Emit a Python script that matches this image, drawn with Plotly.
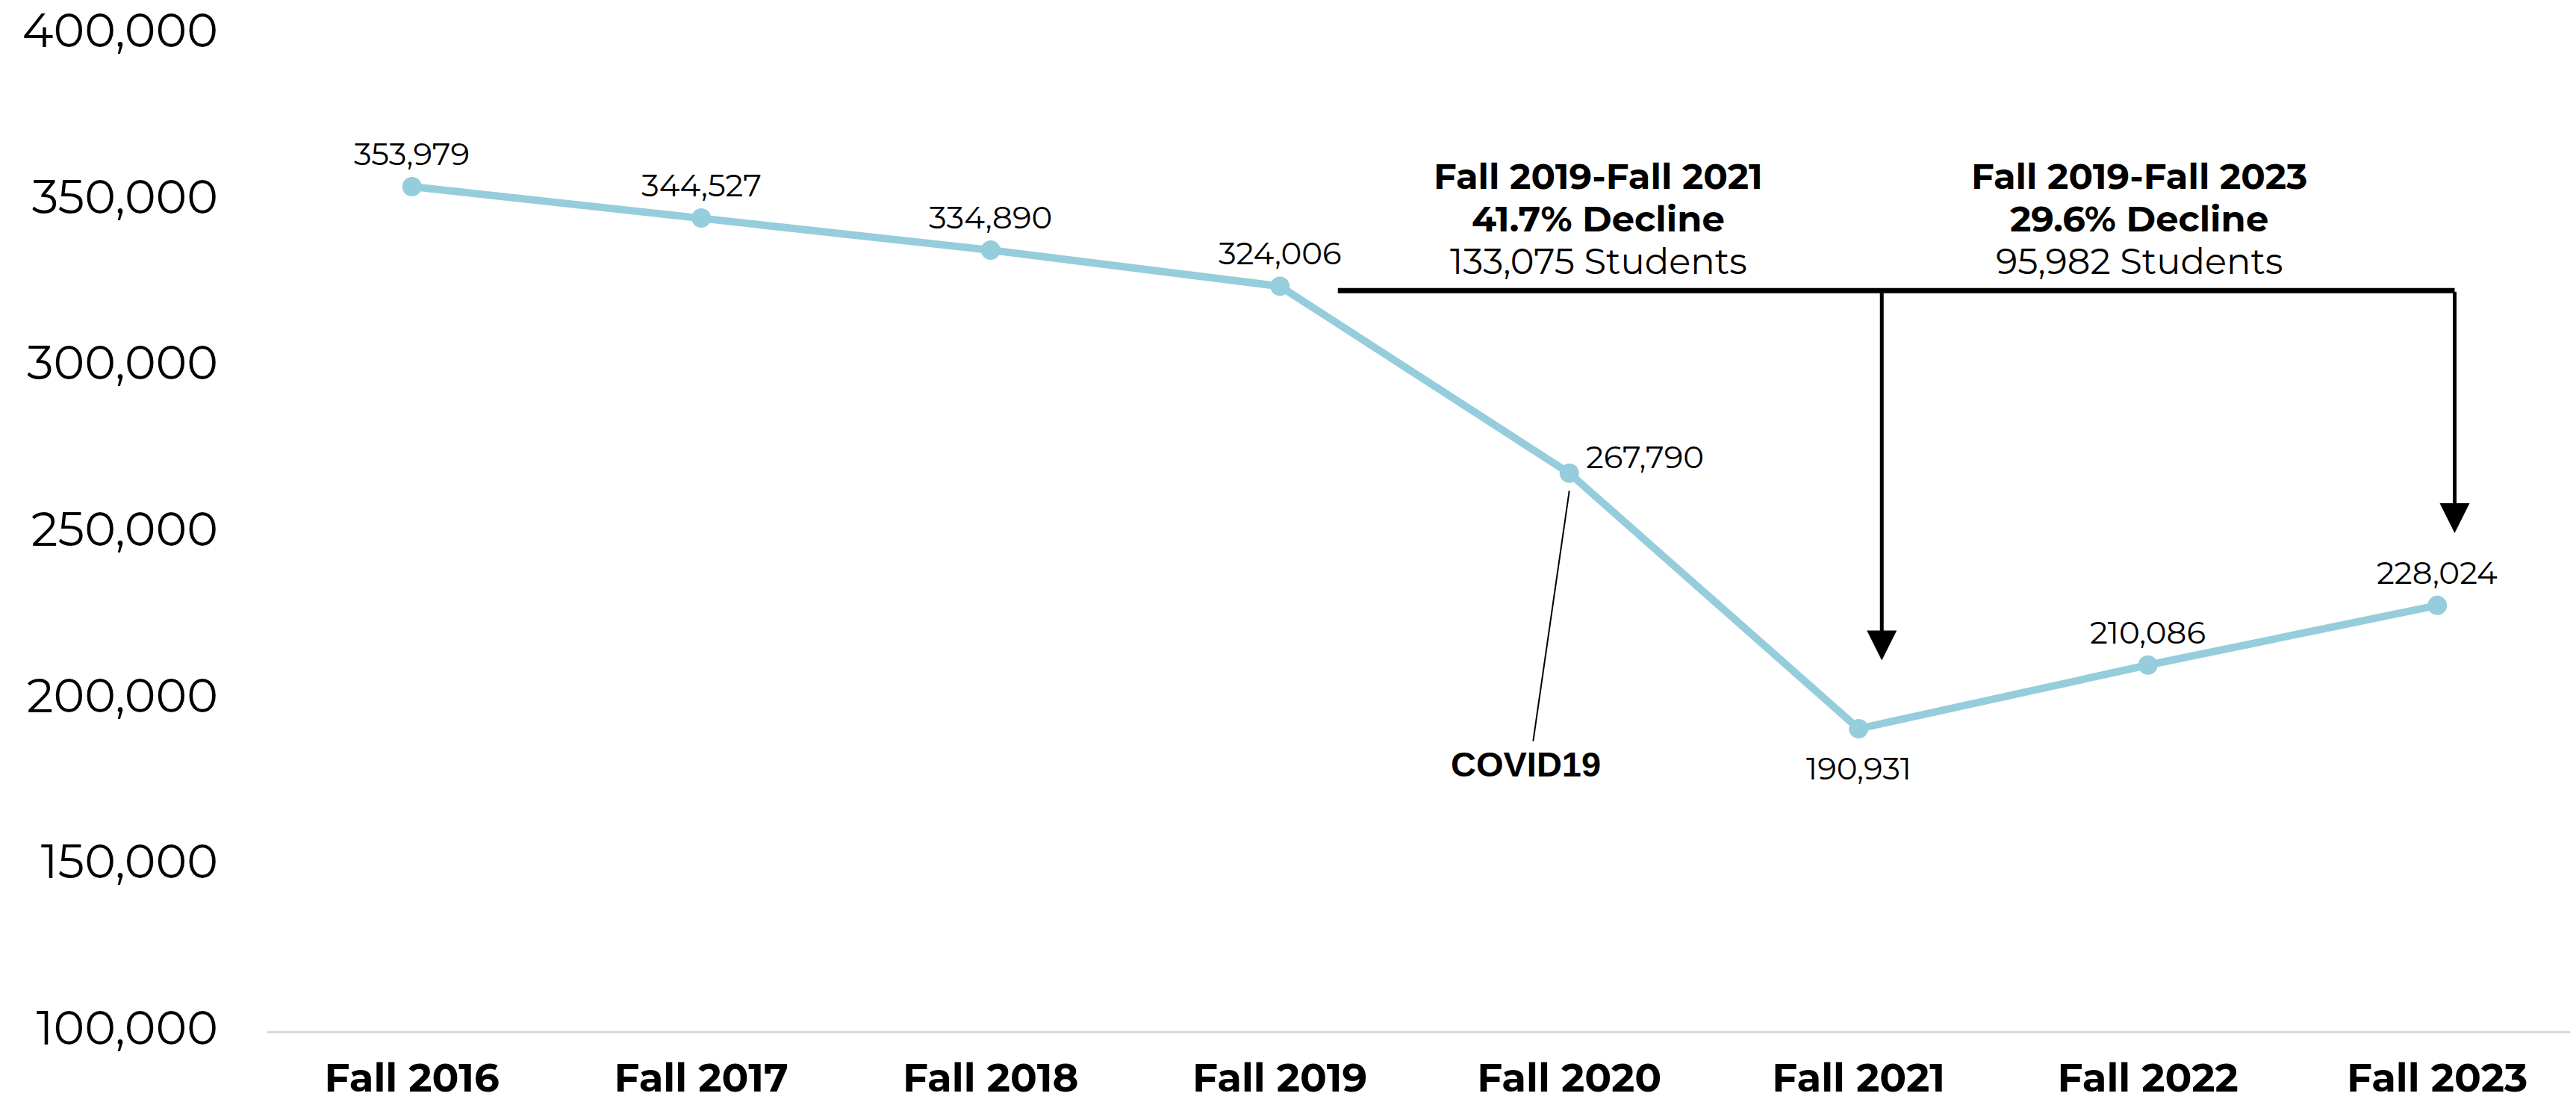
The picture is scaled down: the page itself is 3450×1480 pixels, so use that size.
import plotly.graph_objects as go

# ---- data ----
categories = ["Fall 2016", "Fall 2017", "Fall 2018", "Fall 2019",
              "Fall 2020", "Fall 2021", "Fall 2022", "Fall 2023"]
enrollment = [353979, 344527, 334890, 324006, 267790, 190931, 210086, 228024]
y_ticks = [100000, 150000, 200000, 250000, 300000, 350000, 400000]

bracket_start = 3.2
bracket_end = 7.06
bracket_level = 322700
arrow_2021_x = 5.08
arrow_2021_tip = 211500
arrow_2023_x = 7.06
arrow_2023_tip = 249800

group1_lines = ["Fall 2019-Fall 2021", "41.7% Decline", "133,075 Students"]
group2_lines = ["Fall 2019-Fall 2023", "29.6% Decline", "95,982 Students"]
group1_x, group2_x = 4.10, 5.97
group_y = 344400

covid_label = "COVID19"
covid_from = (4, 262500)
covid_to = (3.875, 187200)

# ---- styling ----
FONT = "Montserrat, Inter, sans-serif"
LINE_COLOR = "#95CDDD"
label_style = ["above", "above", "above", "above", "right", "below", "above", "above"]
STYLE_OFFSETS = {"above": (0, 44, "center"), "right": (20, 22, "left"), "below": (0, -53, "center")}

x_idx = list(range(len(categories)))

fig = go.Figure()
fig.add_trace(go.Scatter(
    x=x_idx, y=enrollment,
    mode="lines+markers",
    line=dict(color=LINE_COLOR, width=10),
    marker=dict(color=LINE_COLOR, size=26),
    cliponaxis=False, showlegend=False, hoverinfo="skip",
))

# data labels
for i, v in enumerate(enrollment):
    xs, ys, xa = STYLE_OFFSETS[label_style[i]]
    fig.add_annotation(x=x_idx[i], y=v, xref="x", yref="y", showarrow=False,
                       text=f"{v:,}", xshift=xs, yshift=ys, xanchor=xa, yanchor="middle",
                       font=dict(family=FONT, size=42, color="black"))

# bracket horizontal bar
fig.add_shape(type="line", xref="x", yref="y",
              x0=bracket_start, x1=bracket_end, y0=bracket_level, y1=bracket_level,
              line=dict(color="black", width=7))
# vertical arrows
for ax_x, tip in [(arrow_2021_x, arrow_2021_tip), (arrow_2023_x, arrow_2023_tip)]:
    fig.add_annotation(x=ax_x, y=tip, ax=ax_x, ay=bracket_level,
                       xref="x", yref="y", axref="x", ayref="y",
                       showarrow=True, arrowhead=2, arrowsize=1.6, arrowwidth=5,
                       arrowcolor="black", text="")

# group texts (three lines each)
for gx, lines in [(group1_x, group1_lines), (group2_x, group2_lines)]:
    for k, (txt, shift) in enumerate(zip(lines, [57, 0, -57])):
        t = f"<b>{txt}</b>" if k < 2 else txt
        fig.add_annotation(x=gx, y=group_y, xref="x", yref="y", showarrow=False,
                           text=t, yshift=shift,
                           font=dict(family=FONT, size=48, color="black"),
                           xanchor="center", yanchor="middle")

# COVID leader line + label
fig.add_shape(type="line", xref="x", yref="y",
              x0=covid_from[0], y0=covid_from[1], x1=covid_to[0], y1=covid_to[1],
              line=dict(color="black", width=2))
fig.add_annotation(x=covid_to[0], y=covid_to[1], xref="x", yref="y", showarrow=False,
                   text=f"<b>{covid_label}</b>",
                   font=dict(family="Liberation Sans, Arial, sans-serif", size=47, color="black"),
                   xanchor="center", yanchor="top", yshift=-2, xshift=-10)

fig.update_layout(
    width=3450, height=1480,
    margin=dict(l=350, r=0, t=37, b=107, autoexpand=False),
    paper_bgcolor="white", plot_bgcolor="white",
    font=dict(family=FONT, color="black"),
)
fig.update_xaxes(
    range=[-0.5, 7.5], tickmode="array", tickvals=x_idx,
    ticktext=[f"<b>{c}</b>" for c in categories],
    tickfont=dict(family=FONT, size=53, color="black"),
    showgrid=False, zeroline=False,
    showline=True, linecolor="#D9D9D9", linewidth=3,
    ticks="", ticklabelstandoff=14, automargin=False,
)
fig.update_yaxes(
    range=[100000, 400000], tickmode="array", tickvals=y_ticks,
    ticktext=[f"{v:,}" for v in y_ticks],
    tickfont=dict(family=FONT, size=63, color="black"),
    showgrid=False, zeroline=False, showline=False,
    ticks="", ticklabelstandoff=65, ticklabelshift=-4,
    ticklabeloverflow="allow", automargin=False,
)

fig.write_html("out.html")
